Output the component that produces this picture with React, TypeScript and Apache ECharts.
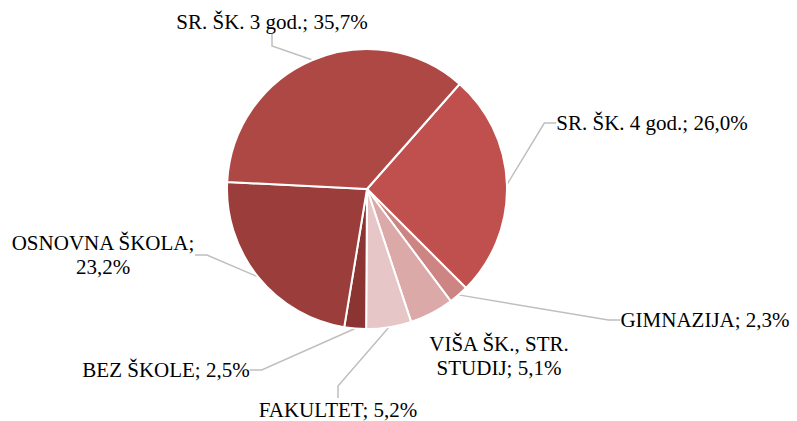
import React, { useEffect, useRef } from "react";
import * as echarts from "echarts";

const categories = [
  "SR. ŠK. 4 god.",
  "GIMNAZIJA",
  "VIŠA ŠK., STR. STUDIJ",
  "FAKULTET",
  "BEZ ŠKOLE",
  "OSNOVNA ŠKOLA",
  "SR. ŠK. 3 god.",
];
const values = [26.0, 2.3, 5.1, 5.2, 2.5, 23.2, 35.7];
const colors = ["#C0504D", "#CD8583", "#DBA9A8", "#E6C6C6", "#8C3431", "#9B3D3B", "#AE4845"];

// label text as printed (line breaks)
const labelTexts = [
  "SR. ŠK. 4 god.; 26,0%",
  "GIMNAZIJA; 2,3%",
  "VIŠA ŠK., STR.\nSTUDIJ; 5,1%",
  "FAKULTET; 5,2%",
  "BEZ ŠKOLE; 2,5%",
  "OSNOVNA ŠKOLA;\n23,2%",
  "SR. ŠK. 3 god.; 35,7%",
];

// label centres (layout only)
const labelPos: [number, number][] = [
  [652, 123],
  [705, 320],
  [499, 356],
  [338, 410],
  [166, 370],
  [103, 255],
  [272, 22],
];
const showLine = [true, true, false, true, true, true, true];

export default function App() {
  const ref = useRef<HTMLDivElement>(null);
  useEffect(() => {
    document.body.style.margin = "0";
    const chart = echarts.init(ref.current!, null, { renderer: "svg" });
    chart.setOption({
      animation: false,
      backgroundColor: "#ffffff",
      series: [
        {
          type: "pie",
          center: [367, 189],
          radius: 140,
          startAngle: 48.6,
          clockwise: true,
          avoidLabelOverlap: false,
          itemStyle: { borderColor: "#ffffff", borderWidth: 2 },
          label: {
            show: true,
            fontFamily: "Liberation Serif",
            fontSize: 21,
            lineHeight: 24,
            color: "#000000",
            align: "center",
            formatter: (p: any) => labelTexts[p.dataIndex],
          },
          labelLine: {
            show: true,
            length: 15,
            length2: 12,
            lineStyle: { color: "#BFBFBF", width: 1.5 },
          },
          labelLayout: (params: any) => {
            const [x, y] = labelPos[params.dataIndex];
            return { x, y, align: "center", verticalAlign: "middle" };
          },
          data: categories.map((name, i) => ({
            name,
            value: values[i],
            itemStyle: { color: colors[i] },
            labelLine: { show: showLine[i] },
          })),
        },
      ],
    });
    return () => chart.dispose();
  }, []);
  return <div ref={ref} style={{ width: 797, height: 421 }} />;
}
